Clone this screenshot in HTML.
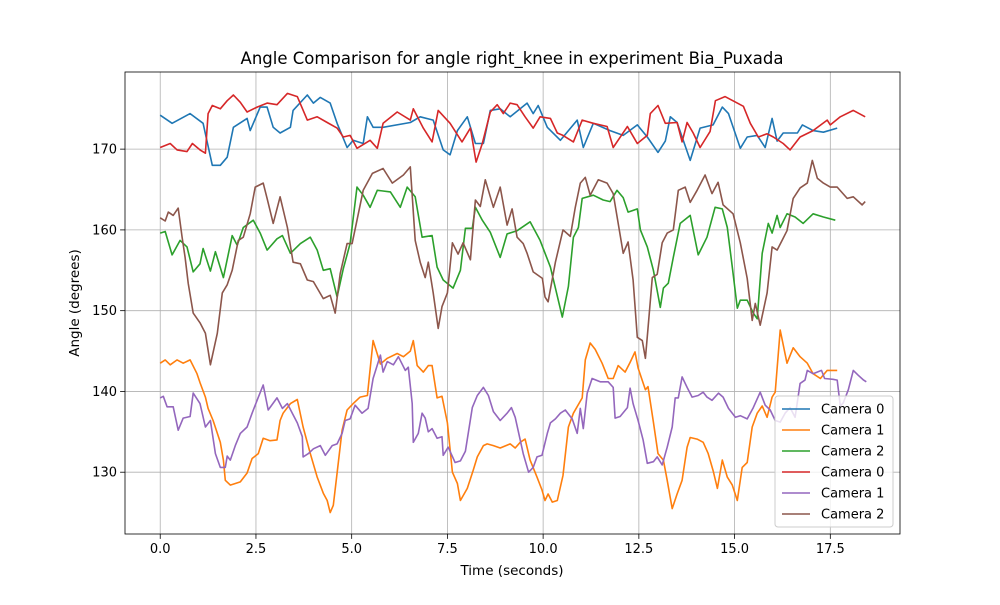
<!DOCTYPE html>
<html><head><meta charset="utf-8"><style>
body{margin:0;background:#fff;}
svg text{font-family:"DejaVu Sans","Liberation Sans",sans-serif;fill:#000;}
</style></head><body>
<svg id="chart" width="1000" height="600" xmlns="http://www.w3.org/2000/svg">
<rect width="1000" height="600" fill="#fff"/>
<text x="512" y="64" font-size="16.5" text-anchor="middle">Angle Comparison for angle right_knee in experiment Bia_Puxada</text>
<text x="512" y="575" font-size="13.5" text-anchor="middle">Time (seconds)</text>
<text x="0" y="0" font-size="13.5" text-anchor="middle" transform="translate(79,303) rotate(-90)">Angle (degrees)</text>
<g id="grid"></g><g id="series"></g><g id="axes"></g><g id="legend"></g>
</svg>
<script>
const xTicks=[0,2.5,5,7.5,10,12.5,15,17.5];
const yTicks=[130,140,150,160,170];
const seriesNames=["Camera 0","Camera 1","Camera 2","Camera 0","Camera 1","Camera 2"];
const seriesColors=["#1f77b4","#ff7f0e","#2ca02c","#d62728","#9467bd","#8c564b"];
const cam0aT=[0,0.31,0.78,1.12,1.36,1.57,1.75,1.91,2.27,2.35,2.61,2.79,2.95,3.13,3.40,3.47,3.84,4.0,4.18,4.44,4.62,4.88,5.04,5.30,5.41,5.56,5.82,6.53,6.79,7.13,7.39,7.57,7.76,8.02,8.23,8.44,8.62,8.88,9.14,9.58,9.74,9.87,10.11,10.45,10.89,11.05,11.31,11.75,12.09,12.46,12.72,13.0,13.19,13.32,13.5,13.84,14.10,14.44,14.68,14.84,15.15,15.33,15.59,15.80,15.98,16.11,16.27,16.64,16.77,17.05,17.32,17.68];
const cam0aV=[174.2,173.2,174.4,173.2,168,168,169,172.7,173.8,172.3,175.2,175.2,172.7,172,172.7,174.8,176.7,175.7,176.4,175.7,173.2,170.2,171.1,170.7,174,172.7,172.7,173.3,174,173.6,169.9,169.3,172.3,174,170.7,170.7,174.8,175,174,175.7,174.4,175.4,172.7,171.1,173.6,170.2,173.2,172.3,171.7,173,171.5,169.6,171,174,173.3,168.6,172.6,173,175.2,174.4,170.1,171.5,171.7,170.2,173.8,171,172,172,173,172.3,172.1,172.6];
const cam0bT=[0,0.26,0.44,0.7,0.84,1.04,1.18,1.25,1.36,1.57,1.75,1.91,2.09,2.27,2.53,2.79,3.05,3.32,3.58,3.84,4.1,4.36,4.62,4.78,4.96,5.14,5.48,5.67,5.82,6.19,6.53,6.61,6.87,7.1,7.26,7.57,7.88,8.10,8.25,8.41,8.62,8.8,8.96,9.14,9.32,9.53,9.74,9.92,10.19,10.37,10.52,10.79,11.02,11.31,11.67,11.83,12.2,12.46,12.72,12.80,13.0,13.19,13.5,13.63,13.76,13.92,14.10,14.36,14.5,14.75,15.07,15.23,15.41,15.62,15.85,16.01,16.27,16.45,16.71,17.05,17.42,17.5,17.76,18.1,18.41];
const cam0bV=[170.2,170.7,169.9,169.7,170.7,169.9,169.5,174.4,175.4,175,176,176.7,175.8,174.6,175.2,175.7,175.5,176.9,176.5,173.6,174,173.3,172.6,171.5,171.7,170.1,171.1,170.1,173.2,174.6,173.6,175,172.6,170.9,174.8,173.2,170.9,172.6,168.4,170.7,174.6,175.5,174.4,175.7,175.5,174,172.6,174,173.8,172,171.7,170.9,173.6,173.2,172.8,170.2,172.8,170.7,171.7,174.4,175.4,173.2,173.3,170.9,173.3,172,170.2,172.2,176,176.5,175.7,175.3,173.2,171.5,171.9,171.5,170.7,169.9,171.5,172.3,173.6,173,174,174.8,174];
const cam1aT=[0,0.13,0.26,0.44,0.6,0.78,0.96,1.04,1.18,1.25,1.38,1.57,1.65,1.70,1.83,2.09,2.27,2.40,2.56,2.69,2.87,3.05,3.13,3.21,3.40,3.58,3.73,3.92,4.10,4.26,4.36,4.44,4.52,4.62,4.75,4.88,5.04,5.22,5.41,5.56,5.75,5.93,6.19,6.35,6.53,6.61,6.71,6.87,7.0,7.1,7.23,7.36,7.50,7.63,7.76,7.84,8.02,8.17,8.28,8.44,8.54,8.70,8.88,9.14,9.27,9.40,9.53,9.66,9.84,9.97,10.05,10.13,10.24,10.37,10.52,10.66,10.79,11.02,11.10,11.23,11.36,11.54,11.70,11.83,11.96,12.14,12.27,12.40,12.48,12.67,12.74,12.88,13.0,13.14,13.24,13.37,13.5,13.63,13.76,13.84,14.02,14.18,14.31,14.44,14.55,14.68,14.81,14.94,15.07,15.20,15.33,15.46,15.59,15.72,15.85,15.98,16.06,16.19,16.37,16.53,16.71,16.9,17.05,17.24,17.42,17.68];
const cam1aV=[143.5,143.9,143.3,143.9,143.5,143.9,142.2,141.1,139.3,137.9,136.4,133.7,131.5,129,128.4,128.8,129.9,131.7,132.3,134.2,133.9,134,136.4,137.3,138.5,139,135.6,132.3,129.4,127.4,126.5,125,125.9,129.9,135.2,137.7,138.5,139.3,139.5,146.3,143.4,144.1,144.7,144.3,145,146.3,143.2,142.4,143.2,143.2,139.2,139.4,136.1,130,128.6,126.5,128,130.2,131.9,133.3,133.5,133.3,133,133.5,133,133.7,134.1,131.5,129.4,127.8,126.5,127.3,126.3,126.5,129.6,135.6,137.3,139.2,143.9,146,145.2,143.5,141.6,141.6,143.2,142.4,143.6,144.9,142.9,140.2,140.6,136.2,132.3,131.5,129,125.5,127.3,129,133.1,134.3,134.1,133.7,132.3,130.2,128,131.5,129.4,128.4,126.5,130.6,131.2,135.6,137.3,138.2,136.8,139.3,139.9,147.6,143.5,145.4,144.3,143.5,142.2,141.6,142.6,142.6];
const cam1bT=[0,0.08,0.18,0.34,0.47,0.6,0.78,0.86,1.04,1.18,1.31,1.44,1.57,1.70,1.75,1.83,1.96,2.09,2.27,2.40,2.53,2.69,2.82,3.05,3.19,3.32,3.45,3.58,3.71,3.73,3.87,4.0,4.18,4.31,4.49,4.62,4.75,4.83,4.96,5.09,5.27,5.43,5.56,5.75,5.82,5.93,6.09,6.22,6.40,6.48,6.58,6.61,6.74,6.84,6.92,7.0,7.1,7.23,7.36,7.39,7.52,7.70,7.84,7.97,8.15,8.28,8.44,8.57,8.70,8.88,9.06,9.17,9.27,9.40,9.48,9.62,9.74,9.84,9.97,10.11,10.19,10.32,10.45,10.58,10.76,10.89,10.97,11.05,11.15,11.28,11.49,11.70,11.83,11.88,12.01,12.2,12.27,12.35,12.48,12.61,12.72,12.88,12.98,13.11,13.24,13.37,13.45,13.53,13.63,13.76,13.89,14.05,14.18,14.28,14.41,14.58,14.70,14.84,15.02,15.15,15.33,15.49,15.67,15.8,15.93,16.06,16.19,16.32,16.45,16.58,16.71,16.84,16.9,17.05,17.27,17.35,17.57,17.68,17.76,17.84,17.97,18.1,18.23,18.37,18.44];
const cam1bV=[139.2,139.4,138.1,138.1,135.2,136.7,136.9,139.8,138.5,135.6,136.4,132.3,130.6,130.6,132,131.5,133.3,134.8,135.6,137.3,138.9,140.8,137.7,139.2,137.9,138.5,137.3,136.1,134.4,131.9,132.3,132.9,133.3,132.1,133.3,133.5,134.8,136.4,136.6,138.3,137.3,137.9,141.6,144.5,142.4,143.7,143.3,144.3,142.6,143,138.5,133.7,134.8,137.3,136.7,135,135.4,134.2,134.4,132.1,133.1,131.2,131.4,132.6,138,139.5,140.5,139.5,137.5,136.4,137.3,138,136.8,134,132.3,130,130.6,131.9,132.1,134.8,136.1,136.6,137.3,137.7,136.6,134.8,137.9,135.4,139.8,141.6,141.2,141.2,140.5,136.7,136.9,138,140.4,138.5,136.4,134,131.1,131.3,131.9,130.9,133.1,135.6,139.2,139.2,141.8,140.5,139.3,139.5,139.9,139.3,138.9,139.8,139.3,137.9,136.8,137,136.6,138,139.9,138.3,137.7,136.4,136.2,137.3,138,136.8,141,141.4,142.6,142.2,142.6,141.6,141.5,141.4,138.2,138.6,140.2,142.6,142,141.4,141.2];
const cam2aT=[0,0.13,0.31,0.52,0.7,0.86,1.04,1.12,1.31,1.44,1.65,1.88,2.01,2.17,2.43,2.61,2.79,3.05,3.19,3.40,3.66,3.92,4.1,4.26,4.44,4.62,4.78,4.96,5.14,5.30,5.48,5.67,6.01,6.27,6.45,6.66,6.84,7.1,7.23,7.39,7.65,7.84,7.97,8.15,8.23,8.41,8.62,8.88,9.06,9.32,9.66,9.92,10.19,10.5,10.66,10.79,10.92,11.02,11.31,11.57,11.75,11.93,12.09,12.22,12.46,12.54,12.72,12.88,13.06,13.14,13.27,13.4,13.58,13.84,14.05,14.28,14.49,14.68,14.81,14.94,15.07,15.15,15.33,15.49,15.59,15.72,15.88,15.98,16.11,16.19,16.37,16.58,16.79,17.05,17.32,17.63];
const cam2aV=[159.6,159.8,156.9,158.7,157.9,154.8,155.8,157.7,154.9,157.3,154.1,159.3,158.1,160.3,161.2,159.6,157.5,158.9,159.3,157.1,158.3,159.1,157.5,155,155.2,151.7,155.2,158.3,165.3,164.3,162.8,164.9,164.7,162.8,165.3,164.1,159.1,159.3,155.4,153.8,152.8,155,160.2,160.2,162.8,161.2,159.7,156.6,159.5,159.9,161,158.7,155.4,149.2,153,159.1,160.3,163.9,164.3,163.7,163.5,164.9,164,162.2,162.6,160,157.9,155,150.4,152.8,153.4,156.6,160.8,161.8,156.9,159.1,162.8,162.6,160.3,155.4,150.3,151.3,151.3,149.7,149,157.1,160.8,159.6,161.8,160.3,162,161.6,160.8,162,161.6,161.2];
const cam2bT=[0,0.13,0.21,0.34,0.47,0.57,0.65,0.73,0.86,1.04,1.18,1.31,1.49,1.62,1.75,1.88,2.04,2.17,2.35,2.48,2.69,2.79,2.95,3.13,3.32,3.47,3.66,3.84,4.0,4.26,4.44,4.57,4.70,4.88,5.01,5.14,5.30,5.54,5.82,6.06,6.35,6.53,6.66,6.79,6.92,7.0,7.13,7.26,7.36,7.5,7.63,7.78,7.91,8.10,8.23,8.36,8.49,8.70,8.88,9.06,9.19,9.32,9.48,9.58,9.74,9.98,10.05,10.13,10.32,10.52,10.71,10.84,10.97,11.10,11.23,11.44,11.67,11.83,11.96,12.09,12.22,12.35,12.46,12.59,12.67,12.74,12.85,12.98,13.11,13.24,13.40,13.53,13.71,13.84,14.02,14.23,14.41,14.57,14.70,14.96,15.15,15.33,15.46,15.54,15.67,15.85,15.98,16.11,16.24,16.37,16.53,16.71,16.9,17.03,17.16,17.32,17.5,17.68,17.94,18.1,18.33,18.41];
const cam2bV=[161.5,161.1,162.2,161.8,162.7,159.1,156.6,153.4,149.7,148.5,147.2,143.3,147.2,152.2,153.2,155,158.7,159.1,162,165.3,165.8,163.9,160.8,164.1,160.3,156,155.8,153.8,153.6,151.5,151.9,149.7,154.6,158.3,158.3,161.2,164.9,167,167.6,165.8,166.8,167.8,158.7,156,154.1,156,152.2,147.8,150.5,152.2,158.4,157,158.4,156.3,163.7,162.9,166.2,162.8,165.3,160.6,162.6,159.1,158.3,157.1,154.8,154,151.7,151.1,156,160,159.2,162.8,165.8,166.5,164.3,166.2,165.8,164.5,160.8,157.1,158.5,153.8,146.7,146.3,144.1,147.8,154.1,154.5,158.4,159.6,160,164.9,165.3,163.4,164.9,166.8,164.5,165.9,163.1,162,158.4,154,148.8,150.9,148.2,152.2,157.9,157.5,158.7,159.9,163.9,165.2,165.8,168.6,166.4,165.8,165.3,165.3,163.9,164.1,163.1,163.5];

const L=125,R=900,T=72,B=534;
const xMin=-0.92,xMax=19.32,yMin=122.35,yMax=179.55;
const xs=v=>L+(v-xMin)/(xMax-xMin)*(R-L);
const ys=v=>B-(v-yMin)/(yMax-yMin)*(B-T);
const NS="http://www.w3.org/2000/svg";
function mk(tag,parent){const e=document.createElementNS(NS,tag);parent.appendChild(e);return e;}
const grid=document.getElementById('grid'),axes=document.getElementById('axes'),ser=document.getElementById('series'),leg=document.getElementById('legend');
xTicks.forEach(t=>{
  const g=mk('line',grid);
  
  
  g.setAttribute('x1',xs(t));g.setAttribute('x2',xs(t));g.setAttribute('y1',T);g.setAttribute('y2',B);
  g.setAttribute('stroke','#b0b0b0');g.setAttribute('stroke-width','0.8');
  const tk=mk('line',axes);
  
  
  tk.setAttribute('x1',xs(t));tk.setAttribute('x2',xs(t));tk.setAttribute('y1',B);tk.setAttribute('y2',B+4.9);tk.setAttribute('stroke','#000');tk.setAttribute('stroke-width','0.8');
  const lb=mk('text',axes);
  
  
  lb.setAttribute('x',xs(t));lb.setAttribute('y',B+19);lb.setAttribute('font-size','13');lb.setAttribute('text-anchor','middle');
  lb.textContent=t.toFixed(1);
});
yTicks.forEach(t=>{
  const g=mk('line',grid);
  
  
  g.setAttribute('x1',L);g.setAttribute('x2',R);g.setAttribute('y1',ys(t));g.setAttribute('y2',ys(t));
  g.setAttribute('stroke','#b0b0b0');g.setAttribute('stroke-width','0.8');
  const tk=mk('line',axes);
  
  
  tk.setAttribute('x1',L-4.9);tk.setAttribute('x2',L);tk.setAttribute('y1',ys(t));tk.setAttribute('y2',ys(t));tk.setAttribute('stroke','#000');tk.setAttribute('stroke-width','0.8');
  const lb=mk('text',axes);
  
  
  lb.setAttribute('x',L-8);lb.setAttribute('y',ys(t)+4.5);lb.setAttribute('font-size','13');lb.setAttribute('text-anchor','end');
  lb.textContent=String(t);
});
const frame=mk('rect',axes);


frame.setAttribute('x',L);frame.setAttribute('y',T);frame.setAttribute('width',R-L);frame.setAttribute('height',B-T);
frame.setAttribute('fill','none');frame.setAttribute('stroke','#000');frame.setAttribute('stroke-width','0.8');
const all=[[cam0aT,cam0aV,'camera-0-line-a'],[cam1aT,cam1aV,'camera-1-line-a'],[cam2aT,cam2aV,'camera-2-line-a'],[cam0bT,cam0bV,'camera-0-line-b'],[cam1bT,cam1bV,'camera-1-line-b'],[cam2bT,cam2bV,'camera-2-line-b']];
all.forEach((s,i)=>{
  const p=mk('polyline',ser);
  
  
  p.setAttribute('points',s[0].map((t,j)=>xs(t).toFixed(1)+','+ys(s[1][j]).toFixed(1)).join(' '));
  p.setAttribute('fill','none');p.setAttribute('stroke',seriesColors[i]);p.setAttribute('stroke-width','1.6');p.setAttribute('stroke-linejoin','round');
});
const box=mk('rect',leg);


box.setAttribute('x',775);box.setAttribute('y',396);box.setAttribute('width',118);box.setAttribute('height',131);box.setAttribute('rx',3);
box.setAttribute('fill','#fff');box.setAttribute('fill-opacity','0.8');box.setAttribute('stroke','#ccc');
seriesNames.forEach((n,i)=>{
  const y=409+i*21;
  const ln=mk('line',leg);
  
  
  ln.setAttribute('x1',782);ln.setAttribute('x2',810);ln.setAttribute('y1',y);ln.setAttribute('y2',y);ln.setAttribute('stroke',seriesColors[i]);ln.setAttribute('stroke-width','1.6');
  const tx=mk('text',leg);
  
  
  tx.setAttribute('x',821);tx.setAttribute('y',y+4.5);tx.setAttribute('font-size','13');
  tx.textContent=n;
});
</script>
</body></html>
